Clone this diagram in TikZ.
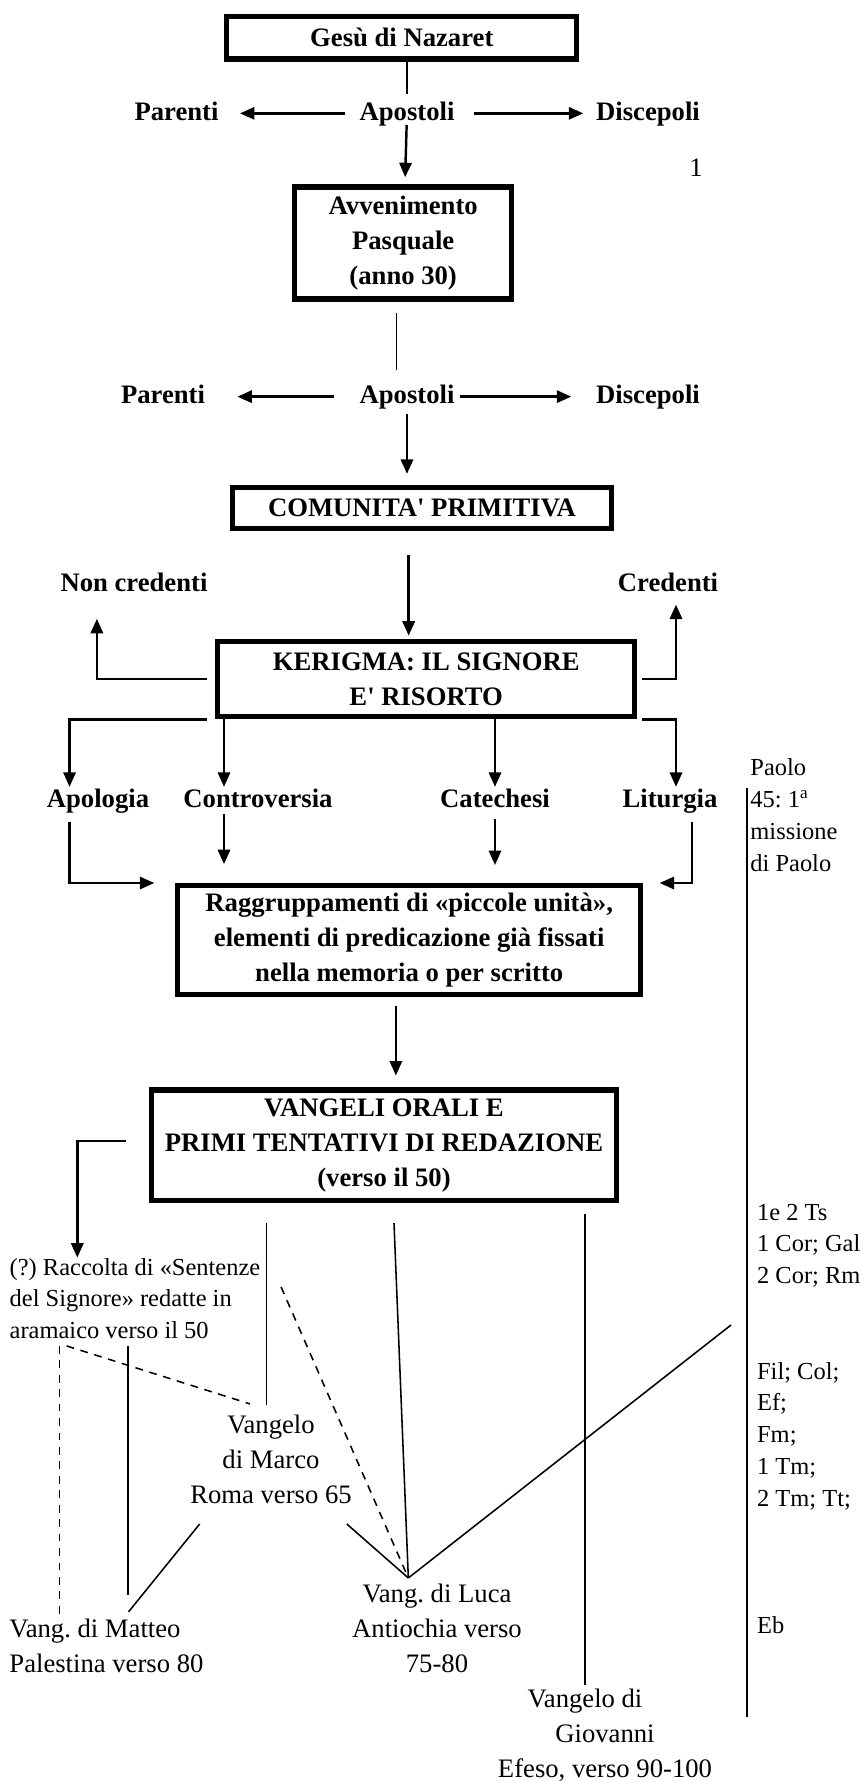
\documentclass[tikz,border=0pt]{standalone}
\usepackage{fontspec}
\setmainfont{Liberation Serif}
\usetikzlibrary{arrows.meta}
\frenchspacing

\tikzset{
  every node/.style={font=\fontsize{12}{15.75}\selectfont, inner sep=0pt},
  box/.style={draw, line width=2.4pt, align=center, font=\fontsize{12}{15.75}\selectfont\bfseries},
  lbl/.style={anchor=base, text height=8pt, text depth=2pt, font=\fontsize{12}{15.75}\selectfont\bfseries},
  txt/.style={align=center, anchor=north},
  note/.style={align=left, anchor=north west, font=\fontsize{11}{14.3}\selectfont},
  arr/.style={line width=1.1pt, -{Triangle[length=6.5pt,width=5.5pt]}},
  thin/.style={line width=0.7pt},
  dashln/.style={line width=0.7pt, dash pattern=on 3.5pt off 3pt}
}

\begin{document}
\begin{tikzpicture}[x=0.45pt, y=-0.45pt]
\useasboundingbox (0,0) rectangle (860,1782);

\node[box, minimum width=157.5pt, minimum height=19.2pt] (gesu) at (401.8,37.5) {Gesù di Nazaret};
\node[lbl] (par1) at (176.5,120) {Parenti};
\node[lbl] (apo1) at (407,120) {Apostoli};
\node[lbl] (dis1) at (648,120) {Discepoli};
\node[anchor=base] (num) at (696,176.7) {1};
\node[box, minimum width=97.7pt, minimum height=50.4pt] (pasqua) at (403.2,243) {Avvenimento\\Pasquale\\(anno 30)};
\node[lbl] (par2) at (163,403.3) {Parenti};
\node[lbl] (apo2) at (407,403.3) {Apostoli};
\node[lbl] (dis2) at (648,403.3) {Discepoli};
\node[box, minimum width=170.4pt, minimum height=18.3pt] (comunita) at (422,508) {COMUNITA\textquotesingle{} PRIMITIVA};
\node[lbl] (noncr) at (134,591.7) {Non credenti};
\node[lbl] (cred) at (668,591.7) {Credenti};
\node[box, minimum width=187.7pt, minimum height=33.8pt] (kerigma) at (426.2,679.2) {KERIGMA: IL SIGNORE\\E\textquotesingle{} RISORTO};
\node[lbl] (apol) at (98,807.3) {Apologia};
\node[lbl] (contr) at (258,807.3) {Controversia};
\node[lbl] (cate) at (495,807.3) {Catechesi};
\node[lbl] (litu) at (670,807.3) {Liturgia};
\node[box, minimum width=208.4pt, minimum height=48.9pt] (raggr) at (409.2,940) {Raggruppamenti di «piccole unità»,\\elementi di predicazione già fissati\\nella memoria o per scritto};
\node[box, minimum width=209.1pt, minimum height=49.7pt] (vangeli) at (384,1145.2) {VANGELI ORALI E\\PRIMI TENTATIVI DI REDAZIONE\\(verso il 50)};

\node[note] (racc) at (9.3,1257.6) {(?) Raccolta di «Sentenze\\del Signore» redatte in\\aramaico verso il 50};
\node[txt] (marco) at (271,1415) {Vangelo\\di Marco\\Roma verso 65};
\node[txt] (luca) at (437,1583.5) {Vang. di Luca\\Antiochia verso\\75-80};
\node[txt, align=left, anchor=north west] (matteo) at (9,1618.5) {Vang. di Matteo\\Palestina verso 80};
\node[txt] (giov) at (605,1688.5) {Vangelo di\hspace*{18pt}\\Giovanni\hspace*{18pt}\\Efeso, verso 90-100};

\node[note] (paolo) at (750,758.3) {Paolo\\45: 1\textsuperscript{a}\\missione\\di Paolo};
\node[note] (lett1) at (756.7,1203.5) {1e 2 Ts\\1 Cor; Gal\\2 Cor; Rm};
\node[note] (lett2) at (756.7,1361.6) {Fil; Col;\\Ef;\\Fm;\\1 Tm;\\2 Tm; Tt;};
\node[note] (lett3) at (756.7,1616) {Eb};
\coordinate (axtop) at (747,788.3);
\coordinate (axbot) at (747,1716.7);
\coordinate (paul) at (731,1325);
\coordinate (apex) at ([xshift=-12.9pt,yshift=2.5pt]luca.north);

\draw[thin, shorten >=3.6pt] (gesu.south -| apo1.north) -- (apo1.north);
\draw[arr, shorten <=6.3pt, shorten >=9.5pt] (apo1) -- (par1);
\draw[arr, shorten <=8.5pt, shorten >=5.6pt] (apo1) -- (dis1);
\draw[arr, shorten >=3.2pt] (apo1) -- (pasqua);
\draw[thin, shorten <=5pt, shorten >=6.7pt] ([xshift=-3pt]pasqua.south) -- ([xshift=-3pt]pasqua.south |- apo2.north);
\draw[arr, shorten <=11.5pt, shorten >=14.4pt] (apo2) -- (par2);
\draw[arr, shorten <=2.3pt, shorten >=11pt] (apo2) -- (dis2);
\draw[arr, shorten <=2.5pt, shorten >=5pt] (apo2.south) -- (apo2.south |- comunita.north);
\draw[arr, shorten <=10.8pt, shorten >=1.5pt] ([xshift=-6pt]comunita.south) -- ([xshift=-6pt]comunita.south |- kerigma.north);

\draw[arr, shorten <=3.7pt, shorten >=10pt] (kerigma.west) -| ([xshift=-16.7pt]noncr.south);
\draw[arr, shorten <=2.2pt, shorten >=3.6pt] (kerigma.east) -| ([xshift=3.6pt]cred.south);
\draw[arr, shorten <=3.7pt, shorten >=1pt] (kerigma.south west) -| ([xshift=-12.8pt]apol.north);
\draw[arr, shorten >=1pt] ([xshift=-15.3pt]contr.north |- kerigma.south) -- ([xshift=-15.3pt]contr.north);
\draw[arr, shorten >=1pt] (cate.north |- kerigma.south) -- (cate.north);
\draw[arr, shorten <=2.2pt, shorten >=1pt] (kerigma.south east) -| ([xshift=2.7pt]litu.north);

\draw[arr, shorten <=4.5pt, shorten >=9.3pt] ([xshift=-12.8pt]apol.south) |- (raggr.north west);
\draw[arr, shorten <=0.7pt, shorten >=8.5pt] ([xshift=-15.3pt]contr.south) -- ([xshift=-15.3pt]contr.south |- raggr.north);
\draw[arr, shorten <=3pt, shorten >=8.1pt] (cate.south) -- (cate.south |- raggr.north);
\draw[arr, shorten <=4.5pt, shorten >=7.3pt] ([xshift=9.9pt]litu.south) |- (raggr.north east);
\draw[arr, shorten <=4pt, shorten >=5.3pt] ([xshift=-6pt]raggr.south) -- ([xshift=-6pt]raggr.south |- vangeli.north);
\draw[arr, shorten <=10.5pt] ([yshift=2pt]vangeli.west) -| ([xshift=30.6pt]racc.north west);

\draw[thin, shorten <=9pt, shorten >=4.5pt] ([xshift=-2pt]marco.north |- vangeli.south) -- ([xshift=-2pt]marco.north);
\draw[thin] ([xshift=4.5pt,yshift=-9pt]vangeli.south) -- (apex);
\draw[thin, shorten <=5pt, shorten >=1.6pt] ([xshift=-9pt]giov.north |- vangeli.south) -- ([xshift=-9pt]giov.north);
\draw[dashln, shorten <=3pt, shorten >=1.6pt] ([xshift=22.5pt]racc.south west) -- ([xshift=22.5pt]racc.south west |- matteo.north);
\draw[thin, shorten <=3pt, shorten >=10.6pt] ([xshift=53.3pt]racc.south west) -- ([xshift=53.3pt]racc.south west |- matteo.north);
\draw[dashln] ([xshift=25.8pt,yshift=-3pt]racc.south west) -- ([xshift=-9.5pt,yshift=5pt]marco.north);
\draw[dashln] ([xshift=122.3pt,yshift=-13.2pt]racc.north west) -- (apex);
\draw[thin] ([xshift=-32.1pt,yshift=-8.7pt]marco.south) -- ([xshift=53.8pt,yshift=3pt]matteo.north west);
\draw[thin] ([xshift=34.1pt,yshift=-8.7pt]marco.south) -- (apex);
\draw[thin] (paul) -- (apex);
\draw[thin] (axtop) -- (axbot);
\end{tikzpicture}
\end{document}
